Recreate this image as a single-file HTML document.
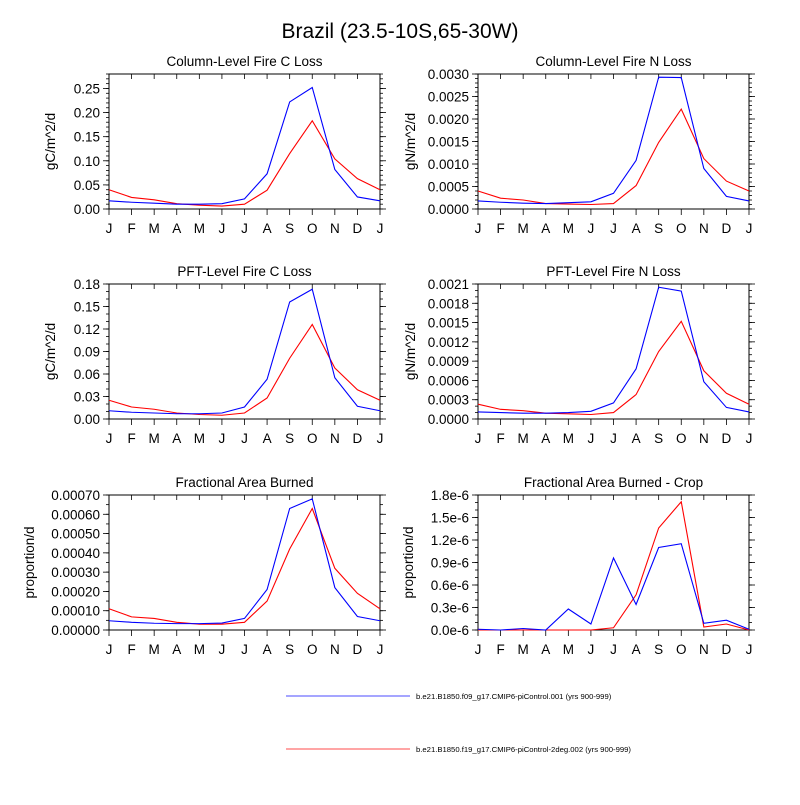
<!DOCTYPE html>
<html><head><meta charset="utf-8"><style>
body{margin:0;background:#fff;}
svg text{font-family:"Liberation Sans",sans-serif;fill:#000;}
</style></head><body>
<svg id="c" width="800" height="800" viewBox="0 0 800 800">
<text x="400" y="38" font-size="21" text-anchor="middle">Brazil (23.5-10S,65-30W)</text>
<g id="panels"></g>
<line x1="286" y1="696" x2="410" y2="696" stroke="#6f6fff" stroke-width="1.2"/>
<text x="416" y="699" font-size="7.7">b.e21.B1850.f09_g17.CMIP6-piControl.001 (yrs 900-999)</text>
<line x1="286" y1="749" x2="410" y2="749" stroke="#ff6f6f" stroke-width="1.2"/>
<text x="416" y="752" font-size="7.7">b.e21.B1850.f19_g17.CMIP6-piControl-2deg.002 (yrs 900-999)</text>
</svg>
<script>
const months = ["J","F","M","A","M","J","J","A","S","O","N","D","J"];
const titles = ["Column-Level Fire C Loss","Column-Level Fire N Loss","PFT-Level Fire C Loss","PFT-Level Fire N Loss","Fractional Area Burned","Fractional Area Burned - Crop"];
const yTitles = ["gC/m^2/d","gN/m^2/d","gC/m^2/d","gN/m^2/d","proportion/d","proportion/d"];
const yMax = [0.28,0.0030,0.18,0.0021,0.00070,1.8];
const yMajor = [0.05,0.0005,0.03,0.0003,0.0001,0.3];
const yMinor = [0.01,0.0001,0.01,0.0001,0.00005,0.1];
const yDec = [2,4,2,4,5,1];
const ySuffix = ["","","","","","e-6"];
const blue1 = [.017,.014,.012,.010,.010,.011,.021,.073,.222,.252,.082,.025,.017];
const red1 = [.040,.024,.019,.011,.008,.006,.010,.039,.115,.183,.104,.063,.040];
const blue2 = [.00018,.00015,.00013,.00012,.00014,.00016,.00035,.00108,.00293,.00292,.00090,.00028,.00018];
const red2 = [.00040,.00024,.00020,.00012,.00011,.00010,.00012,.00052,.00148,.00222,.00112,.00062,.00040];
const blue3 = [.011,.009,.008,.007,.007,.008,.016,.053,.156,.173,.055,.017,.011];
const red3 = [.025,.016,.013,.008,.006,.005,.008,.028,.081,.126,.068,.039,.025];
const blue4 = [.00011,.00010,.00009,.00009,.00010,.00012,.00025,.00078,.00205,.00199,.00058,.00018,.00011];
const red4 = [.00023,.00015,.00013,.00009,.00008,.00007,.00010,.00038,.00105,.00152,.00075,.00040,.00023];
const blue5 = [.000048,.000040,.000035,.000033,.000033,.000036,.000060,.00021,.00063,.00068,.00022,.00007,.000048];
const red5 = [.00011,.000068,.00006,.00004,.00003,.00003,.00004,.00015,.00042,.00063,.00032,.00019,.00011];
const blue6 = [.01,0,.02,0,.28,.08,.96,.34,1.10,1.15,.09,.13,.01];
const red6 = [0,0,0,0,0,0,.03,.47,1.36,1.71,.04,.08,0];
const blues=[blue1,blue2,blue3,blue4,blue5,blue6], reds=[red1,red2,red3,red4,red5,red6];
const NS="http://www.w3.org/2000/svg";
const root=document.getElementById('panels');
function mk(t,a,p){const e=document.createElementNS(NS,t);for(const k in a)e.setAttribute(k,a[k]);(p||root).appendChild(e);return e;}
const lefts=[109,478], tops=[74,284,495], W=271, H=135;
const titleOff=[-59,-68,-59,-68,-80,-70];
for(let i=0;i<6;i++){
  const x0=lefts[i%2], y0=tops[Math.floor(i/2)];
  const g=mk('g',{});
  
  
  const sx=k=>x0+k*W/12, sy=v=>y0+H-v/yMax[i]*H;
  const t=mk('text',{x:x0+W/2,y:y0-8,'font-size':13.5,'text-anchor':'middle'},g);t.textContent=titles[i];
  
  
  const yt=mk('text',{x:0,y:0,'font-size':13.5,'text-anchor':'middle',transform:`translate(${x0+titleOff[i]+5},${y0+H/2}) rotate(-90)`},g);yt.textContent=yTitles[i];
  
  
  const nmin=Math.round(yMax[i]/yMinor[i]);
  for(let m=0;m<=nmin;m++){const y=sy(m*yMinor[i]);
    mk('line',{x1:x0-3,y1:y,x2:x0,y2:y,stroke:'#000','stroke-width':0.8},g);
    mk('line',{x1:x0+W,y1:y,x2:x0+W+3,y2:y,stroke:'#000','stroke-width':0.8},g);}
  const nmaj=Math.floor(yMax[i]/yMajor[i]+1e-6);
  for(let m=0;m<=nmaj;m++){const v=m*yMajor[i],y=sy(v);
    mk('line',{x1:x0-6,y1:y,x2:x0,y2:y,stroke:'#000','stroke-width':0.8},g);
    mk('line',{x1:x0+W,y1:y,x2:x0+W+6,y2:y,stroke:'#000','stroke-width':0.8},g);
    const tl=mk('text',{x:x0-9,y:y+5,'font-size':13.5,'text-anchor':'end'},g);tl.textContent=v.toFixed(yDec[i])+ySuffix[i];
    
    }
  for(let k=0;k<13;k++){const x=sx(k);
    mk('line',{x1:x,y1:y0+H,x2:x,y2:y0+H+6,stroke:'#000','stroke-width':0.8},g);
    mk('line',{x1:x,y1:y0,x2:x,y2:y0+5,stroke:'#000','stroke-width':0.8},g);
    const xl=mk('text',{x:x,y:y0+H+24,'font-size':13.5,'text-anchor':'middle'},g);xl.textContent=months[k];
    
    }
  mk('rect',{x:x0,y:y0,width:W,height:H,fill:'none',stroke:'#000','stroke-width':1},g);
  [[reds[i],'#ff0000','red-series'],[blues[i],'#0000ff','blue-series']].forEach(([d,c,n])=>{
    const p=mk('polyline',{points:d.map((v,k)=>sx(k)+','+sy(v)).join(' '),fill:'none',stroke:c,'stroke-width':1.1},g);
    
    });
}
</script>
</body></html>
